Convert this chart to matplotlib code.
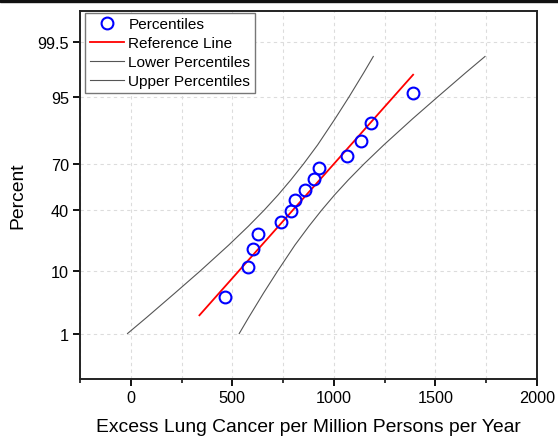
import numpy as np
import matplotlib
matplotlib.use("Agg")
import matplotlib.pyplot as plt
from matplotlib.patches import Rectangle
from statistics import NormalDist

plt.rcParams['font.family'] = ['Liberation Sans', 'DejaVu Sans']

# excess lung cancer per million persons per year, sorted, with plotting percentiles
cancer = [463, 578, 603, 624, 738, 790, 807, 856, 904, 927, 1066, 1135, 1184, 1389]
percent = [4.39, 11.40, 18.42, 25.44, 32.46, 39.47, 46.49,
           53.51, 60.53, 67.54, 74.56, 81.58, 88.60, 95.61]

# fitted reference line end points
ref_x = [338, 1390]
ref_pct = [2.17, 97.83]

# confidence band around the reference line
band_pct = [1, 2, 5, 10, 20, 30, 40, 50, 60, 70, 80, 90, 95, 98, 99]
lower_x = [-16, 79, 218, 340, 482, 579, 657, 725, 788, 851, 920, 1006, 1074, 1147, 1194]
upper_x = [534, 581, 654, 722, 808, 877, 940, 1003, 1071, 1149, 1246, 1388, 1510, 1649, 1744]

y_ticks = [1, 10, 40, 70, 95, 99.5]
y_tick_labels = ['1', '10', '40', '70', '95', '99.5']

nd = NormalDist()
_ppf = np.vectorize(lambda p: nd.inv_cdf(min(max(p / 100.0, 1e-9), 1 - 1e-9)))
_cdf = np.vectorize(lambda z: nd.cdf(z) * 100.0)


def forward(p):
    p = np.asarray(p, dtype=float)
    if p.size == 0:
        return p
    return _ppf(p)


def inverse(z):
    z = np.asarray(z, dtype=float)
    if z.size == 0:
        return z
    return _cdf(z)


fig = plt.figure(figsize=(5.58, 4.39), dpi=100)
ax = fig.add_axes([80 / 558, 59 / 439, 457 / 558, 368 / 439])
ax.set_yscale('function', functions=(forward, inverse))

ax.plot(cancer, percent, 'o', mfc='none', mec='#0000ff', ms=8.5, mew=1.5,
        label='Percentiles', zorder=5)
ax.plot(ref_x, ref_pct, color='#ff0000', lw=1.3, label='Reference Line', zorder=4)
ax.plot(lower_x, band_pct, color='#555555', lw=0.8, label='Lower Percentiles')
ax.plot(upper_x, band_pct, color='#555555', lw=0.8, label='Upper Percentiles')

ax.set_xlim(-250, 2000)
ax.set_ylim(0.1, 99.9)
ax.set_xticks([0, 500, 1000, 1500, 2000])
ax.set_xticks([-250, 250, 750, 1250, 1750], minor=True)
ax.set_yticks(y_ticks)
ax.set_yticklabels(y_tick_labels)
ax.yaxis.set_minor_locator(matplotlib.ticker.NullLocator())

ax.grid(True, which='both', axis='x', ls=(0, (3, 3)), color='#dcdcdc', lw=0.8)
ax.grid(True, which='major', axis='y', ls=(0, (3, 3)), color='#dcdcdc', lw=0.8)
ax.set_axisbelow(True)

ax.tick_params(axis='both', which='major', direction='out', length=5, width=1.3,
               labelsize=11.7, top=False, right=False, pad=3)
ax.tick_params(axis='x', which='minor', direction='out', length=3, width=1.1)
for s in ax.spines.values():
    s.set_linewidth(1.4)
    s.set_color('#222222')

ax.set_xlabel('Excess Lung Cancer per Million Persons per Year', fontsize=13.9, labelpad=9)
ax.set_ylabel('Percent', fontsize=13.9, labelpad=8)

leg = ax.legend(loc='upper left', bbox_to_anchor=(0.008, 1.0), fontsize=11.1,
                frameon=True, fancybox=False, edgecolor='#777777', framealpha=1,
                handlelength=2.2, handletextpad=0.3, labelspacing=0.32,
                borderpad=0.3, borderaxespad=0.1)
leg.get_frame().set_linewidth(1.0)

# dark strip along the top edge
fig.patches.append(Rectangle((0, 1 - 3 / 439), 1, 3 / 439, transform=fig.transFigure,
                             color='#111111', zorder=10))

fig.savefig('out.png', dpi=100)
